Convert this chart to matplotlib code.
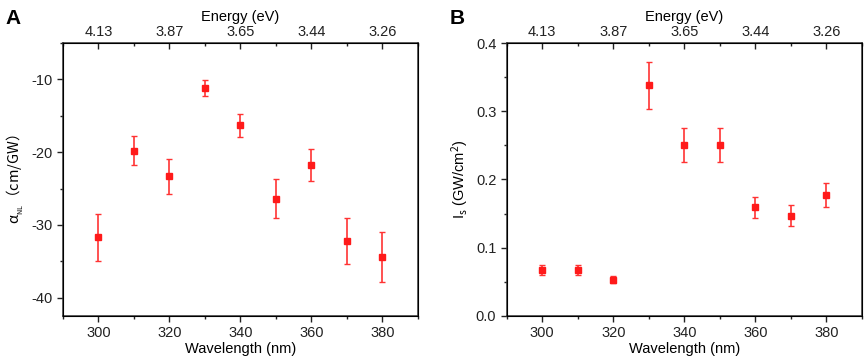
import numpy as np
import matplotlib.pyplot as plt
from matplotlib.ticker import MultipleLocator

plt.rcParams['font.family'] = ['Liberation Sans', 'Noto Sans CJK SC', 'DejaVu Sans']
plt.rcParams['font.size'] = 10.5
plt.rcParams['axes.unicode_minus'] = False
plt.rcParams['mathtext.fontset'] = 'custom'
plt.rcParams['mathtext.rm'] = 'Noto Sans CJK SC'
plt.rcParams['mathtext.it'] = 'Noto Sans CJK SC'
plt.rcParams['mathtext.sf'] = 'Noto Sans CJK SC'

wavelength = [300, 310, 320, 330, 340, 350, 360, 370, 380]
alpha_nl = [-31.7, -19.8, -23.3, -11.2, -16.3, -26.4, -21.7, -32.2, -34.4]
alpha_err = [3.2, 2.0, 2.4, 1.1, 1.6, 2.7, 2.2, 3.2, 3.4]
i_s = [0.067, 0.067, 0.053, 0.338, 0.250, 0.250, 0.159, 0.147, 0.177]
i_s_err = [0.007, 0.007, 0.005, 0.034, 0.025, 0.025, 0.016, 0.015, 0.018]
top_ticks = [300, 320, 340, 360, 380]
top_labels = ['4.13', '3.87', '3.65', '3.44', '3.26']

fig = plt.figure(figsize=(8.65, 3.59), dpi=100)
axA = fig.add_axes([0.0728, 0.12, 0.4104, 0.76])
axB = fig.add_axes([0.5858, 0.12, 0.4107, 0.76])


def setup(ax, y, yerr, ylim, ymaj, ymin, ylabel):
    ax.errorbar(wavelength, y, yerr=yerr, fmt='s', color='#ff1a1a', ms=4.5,
                ecolor='#ff3333', elinewidth=1.2, capsize=2.5, capthick=1.0)
    ax.set_xlim(290, 390)
    ax.set_ylim(*ylim)
    ax.xaxis.set_major_locator(MultipleLocator(20))
    ax.xaxis.set_minor_locator(MultipleLocator(10))
    ax.yaxis.set_major_locator(MultipleLocator(ymaj))
    ax.yaxis.set_minor_locator(MultipleLocator(ymin))
    ax.tick_params(which='both', direction='out', right=False, top=False, colors='#222222')
    ax.tick_params(which='major', length=4, width=1)
    ax.tick_params(which='minor', length=2.5, width=1)
    for s in ax.spines.values():
        s.set_linewidth(1.1)
        s.set_color('#333333')
    ax.set_xlabel('Wavelength (nm)', labelpad=1)
    ax.set_ylabel(ylabel)
    top = ax.twiny()
    top.set_xlim(ax.get_xlim())
    top.set_xticks(top_ticks)
    top.set_xticklabels(top_labels)
    top.xaxis.set_minor_locator(MultipleLocator(10))
    top.tick_params(which='both', direction='in', colors='#222222', pad=3)
    top.tick_params(which='major', length=4, width=1)
    top.tick_params(which='minor', length=2.5, width=1)
    top.set_xlabel('Energy (eV)', labelpad=3)
    return top


setup(axA, alpha_nl, alpha_err, (-42.5, -5), 10, 5,
      r'$\mathrm{\alpha_{_{NL}}（cm/GW）}$')
axA.set_yticks([-10, -20, -30, -40])
setup(axB, i_s, i_s_err, (0, 0.4), 0.1, 0.05, r'I$_\mathrm{s}$ (GW/cm$^2$)')
axB.yaxis.set_major_formatter(plt.FormatStrFormatter('%.1f'))

fig.text(0.006, 0.975, 'A', fontsize=15, fontweight='bold', va='top')
fig.text(0.52, 0.975, 'B', fontsize=15, fontweight='bold', va='top')

fig.savefig('out.png', dpi=100)
